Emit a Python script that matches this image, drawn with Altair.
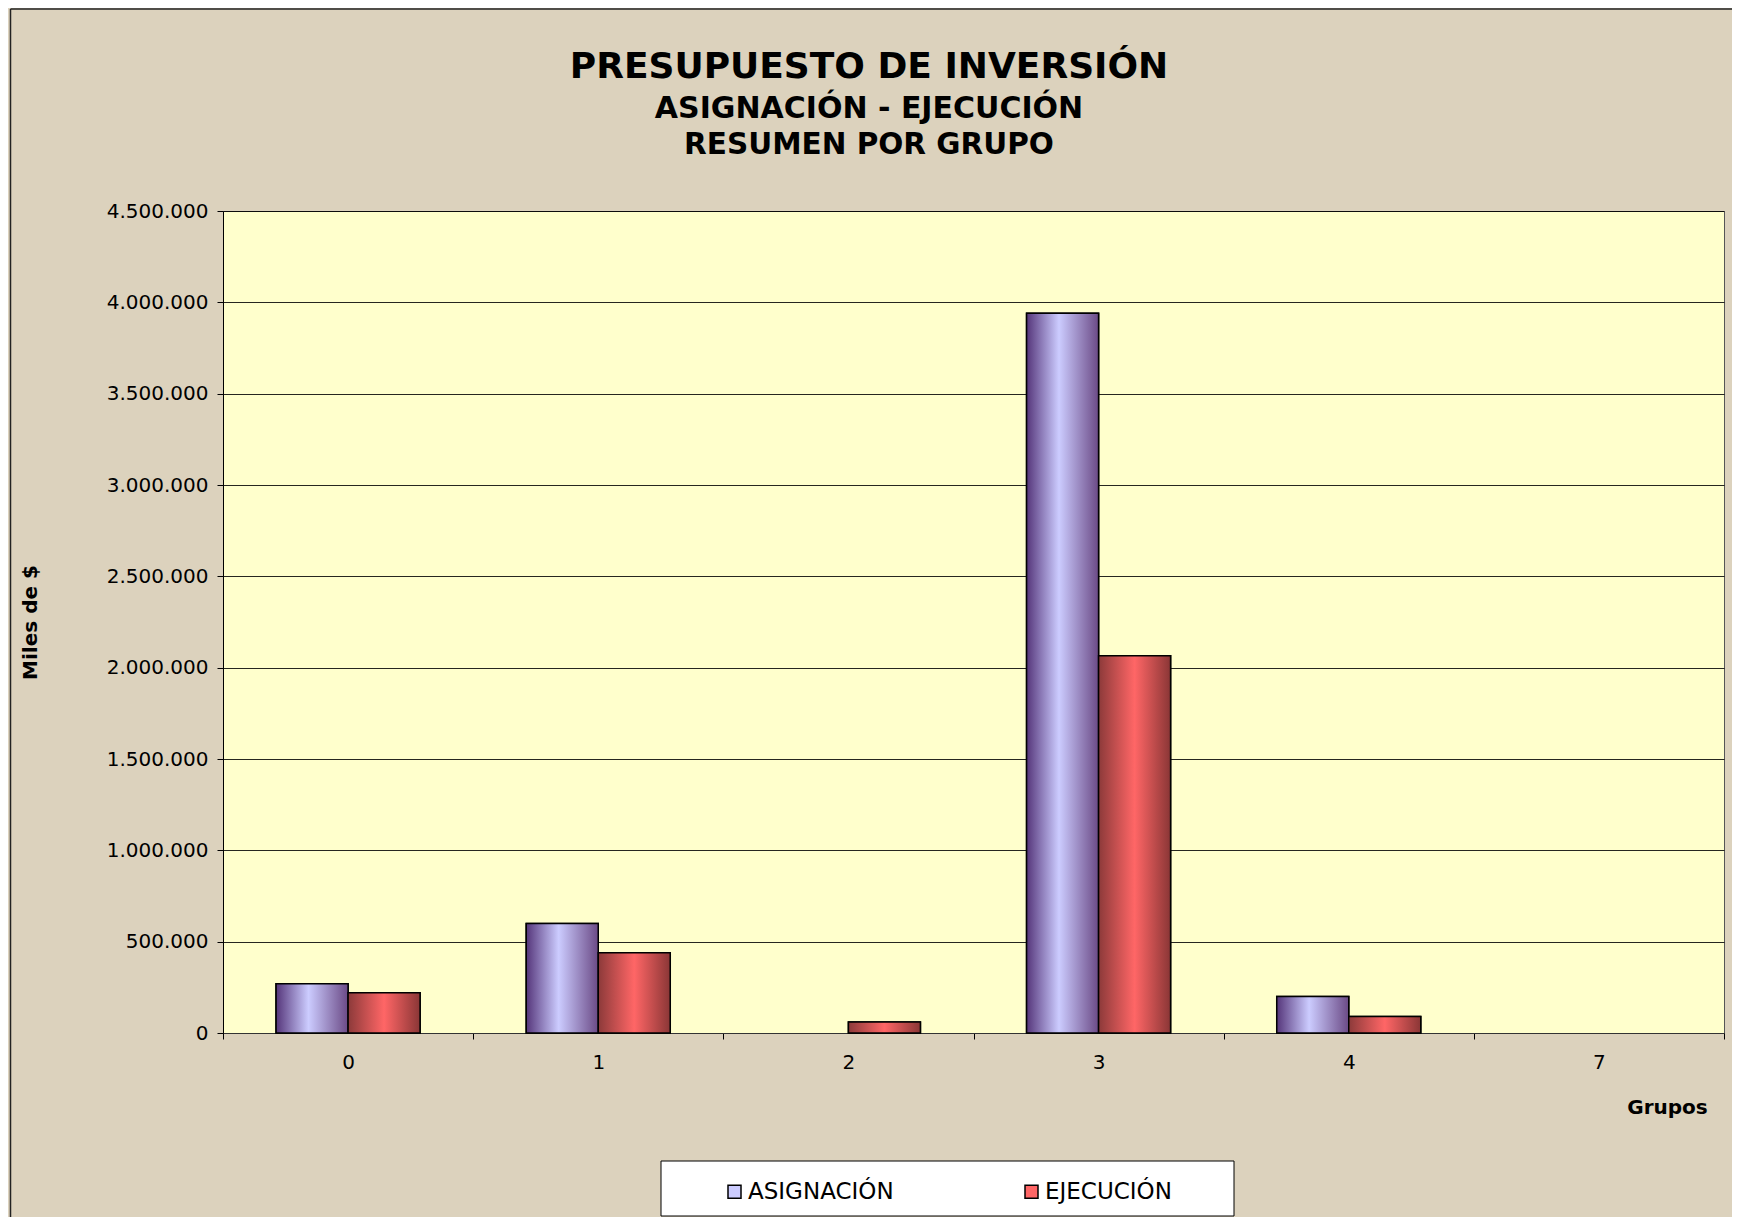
import altair as alt
import pandas as pd

# ---- data ----
grupos = ["0", "1", "2", "3", "4", "7"]
asignacion = [270000, 600000, 0, 3940000, 200000, 0]
ejecucion = [220000, 440000, 60000, 2065000, 90000, 0]
series = ["ASIGNACIÓN", "EJECUCIÓN"]
series_colors = ["#ccccff", "#ff6666"]
y_ticks = [0, 500000, 1000000, 1500000, 2000000, 2500000,
           3000000, 3500000, 4000000, 4500000]
title_lines = ["PRESUPUESTO DE INVERSIÓN", "ASIGNACIÓN - EJECUCIÓN", "RESUMEN POR GRUPO"]

rows = []
for g, a, e in zip(grupos, asignacion, ejecucion):
    rows.append({"grupo": g, "serie": series[0], "valor": a})
    rows.append({"grupo": g, "serie": series[1], "valor": e})
df = pd.DataFrame(rows)
one = pd.DataFrame({"k": [0]})

FONT = "DejaVu Sans"
W, H = 1501, 822

x_enc = alt.X(
    "grupo:N",
    scale=alt.Scale(domain=grupos, paddingInner=0, paddingOuter=0),
    title="Grupos",
    axis=alt.Axis(
        labelAngle=0, tickBand="extent", tickSize=6, tickColor="black",
        domainColor="#333333", labelFontSize=20, labelPadding=13,
        labelColor="black", labelFont=FONT,
        titleFont=FONT, titleFontSize=20, titleFontWeight="bold",
        titleColor="black", titleX=1444, titleY=74, titleAlign="center",
        titleBaseline="middle", grid=False,
    ),
)
xoff = alt.XOffset(
    "serie:N",
    scale=alt.Scale(domain=series, paddingInner=0, paddingOuter=0.737),
)
y_enc = alt.Y(
    "valor:Q",
    scale=alt.Scale(domain=[0, 4500000], nice=False, zero=True),
    title="Miles de $",
    axis=alt.Axis(
        values=y_ticks,
        labelExpr="replace(replace(format(datum.value, ','), ',', '.'), ',', '.')",
        tickSize=6, tickColor="black", domainColor="black",
        labelFont=FONT, labelFontSize=20, labelPadding=9, labelColor="black",
        grid=True, gridColor="black", gridWidth=1, gridOpacity=0.85,
        titleFont=FONT, titleFontSize=20, titleFontWeight="bold",
        titleColor="black", titleX=-193, titleY=411, titleAngle=270,
        titleAlign="center", titleBaseline="middle",
    ),
)

grad_a = alt.LinearGradient(
    gradient="linear", x1=0, x2=1, y1=0, y2=0,
    stops=[
        alt.GradientStop(color="#55357a", offset=0),
        alt.GradientStop(color="#ccccff", offset=0.45),
        alt.GradientStop(color="#6b4a86", offset=1),
    ],
)
grad_e = alt.LinearGradient(
    gradient="linear", x1=0, x2=1, y1=0, y2=0,
    stops=[
        alt.GradientStop(color="#8c3a3a", offset=0),
        alt.GradientStop(color="#ff6666", offset=0.5),
        alt.GradientStop(color="#8a3636", offset=1),
    ],
)

legend_box = alt.Chart(one).mark_rect(
    fill="white", stroke="black", strokeWidth=1
).encode(x=alt.value(438), x2=alt.value(1011), y=alt.value(950), y2=alt.value(1005))

frame_left = alt.Chart(one).mark_rule(color="#222222", strokeWidth=1.5).encode(
    x=alt.value(-212.5), y=alt.value(-202), y2=alt.value(1006)
)
frame_top = alt.Chart(one).mark_rule(color="#222222", strokeWidth=1.5).encode(
    x=alt.value(-212.5), x2=alt.value(1509), y=alt.value(-202)
)

def title_text(line, size, ypos):
    return alt.Chart(pd.DataFrame({"t": [line]})).mark_text(
        font=FONT, fontSize=size, fontWeight="bold", color="black",
        align="center", baseline="middle",
    ).encode(text="t:N", x=alt.value(646), y=alt.value(ypos))

t1 = title_text(title_lines[0], 36, -144)
t2 = title_text(title_lines[1], 30, -102)
t3 = title_text(title_lines[2], 29.5, -66)

base_bars = alt.Chart(df).transform_filter("datum.valor > 0").mark_bar(
    stroke="black", strokeWidth=1.5
).encode(
    x=x_enc, xOffset=xoff, y=y_enc,
    color=alt.Color(
        "serie:N",
        scale=alt.Scale(domain=series, range=series_colors),
        legend=alt.Legend(
            title=None, orient="none", legendX=500, legendY=969,
            direction="horizontal", columns=2, columnPadding=126,
            symbolType="square", symbolSize=169, symbolStrokeColor="black",
            symbolStrokeWidth=1.5, labelFont=FONT, labelFontSize=23,
            labelColor="black", labelOffset=2, padding=0,
        ),
    ),
)

bars_a = alt.Chart(df).transform_filter(
    (alt.datum.serie == series[0]) & (alt.datum.valor > 0)
).mark_bar(fill=grad_a, stroke="black", strokeWidth=1.5).encode(
    x=x_enc, xOffset=xoff, y=y_enc
)
bars_e = alt.Chart(df).transform_filter(
    (alt.datum.serie == series[1]) & (alt.datum.valor > 0)
).mark_bar(fill=grad_e, stroke="black", strokeWidth=1.5).encode(
    x=x_enc, xOffset=xoff, y=y_enc
)

chart = alt.layer(
    legend_box, frame_left, frame_top, t1, t2, t3, base_bars, bars_a, bars_e
).properties(
    width=W, height=H,
    padding={"left": 215, "top": 203, "right": 8, "bottom": 184},
    autosize=alt.AutoSizeParams(type="none"),
).configure(background="#dcd2bd").configure_view(
    fill="#ffffcc", stroke="#555555", strokeWidth=1
)

chart.save("out.html", embed_options={"renderer": "svg", "actions": False})
